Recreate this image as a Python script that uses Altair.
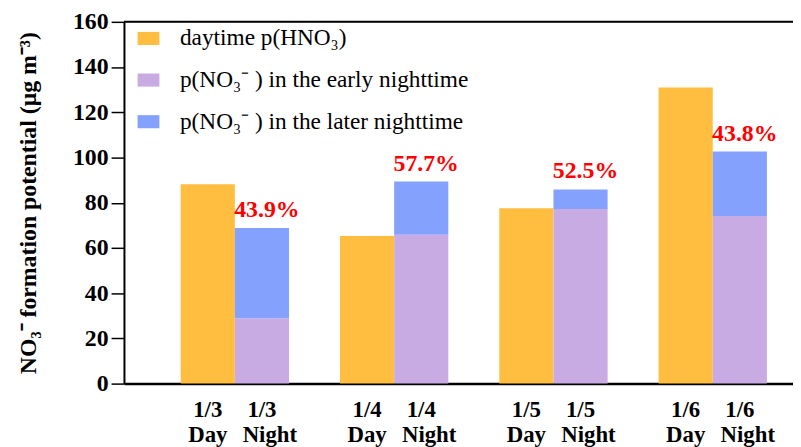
import altair as alt
import pandas as pd

dates = ["1/3", "1/4", "1/5", "1/6"]
day_vals = [88.2, 65.3, 77.6, 131.0]
early_vals = [28.9, 65.8, 77.2, 74.1]
later_vals = [39.9, 23.6, 8.7, 28.5]
pct_labels = ["43.9%", "57.7%", "52.5%", "43.8%"]
slots = ["Day", "Night"]
series = ["daytime p(HNO\u2083)",
          "\u00a0p(NO\u2083\u207b ) in the early nighttime",
          "\u00a0p(NO\u2083\u207b ) in the later nighttime"]
colors = ["#FFBE3F", "#C9ABE3", "#84A2FD"]

rows = []
for i, d in enumerate(dates):
    rows.append({"date": d, "slot": "Day", "series": series[0], "value": day_vals[i], "order": 0})
    rows.append({"date": d, "slot": "Night", "series": series[1], "value": early_vals[i], "order": 1})
    rows.append({"date": d, "slot": "Night", "series": series[2], "value": later_vals[i], "order": 2})
df = pd.DataFrame(rows)

pct_df = pd.DataFrame({
    "date": dates,
    "slot": ["Night"] * 4,
    "total": [e + l for e, l in zip(early_vals, later_vals)],
    "label": pct_labels,
})

lab_df = pd.DataFrame([{"date": d, "slot": s} for d in dates for s in slots])

W, H = 675, 365
FONT = "Times New Roman, Liberation Serif, serif"

xenc = alt.X("date:N", sort=dates,
             scale=alt.Scale(domain=dates, paddingInner=0.32, paddingOuter=0.26, align=0.685),
             axis=alt.Axis(labels=False, ticks=False, title=None, domainColor="black",
                           domainWidth=2.5))
xoff = alt.XOffset("slot:N", scale=alt.Scale(domain=slots, paddingInner=0, paddingOuter=0))

bars = alt.Chart(df).mark_bar().encode(
    x=xenc,
    xOffset=xoff,
    y=alt.Y("value:Q", stack="zero",
            scale=alt.Scale(domain=[0, 160], nice=False),
            axis=alt.Axis(values=list(range(0, 161, 20)),
                          title="NO\u2083\u207b formation potential (\u03bcg m\u207b\u00b3)",
                          titleFont=FONT, titleFontSize=24, titleFontWeight="bold",
                          titleColor="black", titlePadding=32,
                          labelFont=FONT, labelFontSize=24, labelFontWeight="bold",
                          labelColor="black", labelPadding=3,
                          tickColor="black", tickSize=13, tickWidth=1.5,
                          domainColor="black", domainWidth=2, grid=False)),
    color=alt.Color("series:N",
                    scale=alt.Scale(domain=series, range=colors),
                    legend=alt.Legend(title=None, orient="none", legendX=13, legendY=5,
                                      direction="vertical",
                                      symbolType="M-1,-0.6H1V0.6H-1Z", symbolSize=484,
                                      symbolStrokeWidth=0, symbolOpacity=1,
                                      labelFont=FONT, labelFontSize=23.5, labelColor="black",
                                      labelOffset=20, rowPadding=17, padding=0,
                                      labelLimit=500)),
    order=alt.Order("order:Q"),
)

pct = alt.Chart(pct_df).mark_text(
    baseline="bottom", dy=-6, dx=5, color="#FF0000", fontWeight="bold", font=FONT, fontSize=24
).encode(x=xenc, xOffset=xoff, y=alt.Y("total:Q"), text="label:N")

date_labels = alt.Chart(lab_df).mark_text(
    baseline="middle", fontWeight="bold", font=FONT, fontSize=23, color="black"
).encode(x=xenc, xOffset=xoff, y=alt.value(392), text="date:N")

day_labels = alt.Chart(lab_df).transform_filter(alt.datum.slot == "Day").mark_text(
    baseline="middle", fontWeight="bold", font=FONT, fontSize=23, color="black"
).encode(x=xenc, xOffset=xoff, y=alt.value(417), text="slot:N")

night_labels = alt.Chart(lab_df).transform_filter(alt.datum.slot == "Night").mark_text(
    baseline="middle", fontWeight="bold", font=FONT, fontSize=23, color="black", dx=8
).encode(x=xenc, xOffset=xoff, y=alt.value(417), text="slot:N")

top_rule = alt.Chart(pd.DataFrame({"a": [0]})).mark_rule(color="black", strokeWidth=2).encode(
    y=alt.value(0), x=alt.value(0), x2=alt.value(W))

chart = alt.layer(bars, pct, date_labels, day_labels, night_labels, top_rule).properties(
    width=W, height=H,
    autosize=alt.AutoSizeParams(type="none"),
    padding={"left": 117, "top": 12, "right": 0, "bottom": 62},
).configure_view(stroke=None).configure(background="white")

chart.save("out.html", embed_options={"renderer": "svg", "actions": False})
